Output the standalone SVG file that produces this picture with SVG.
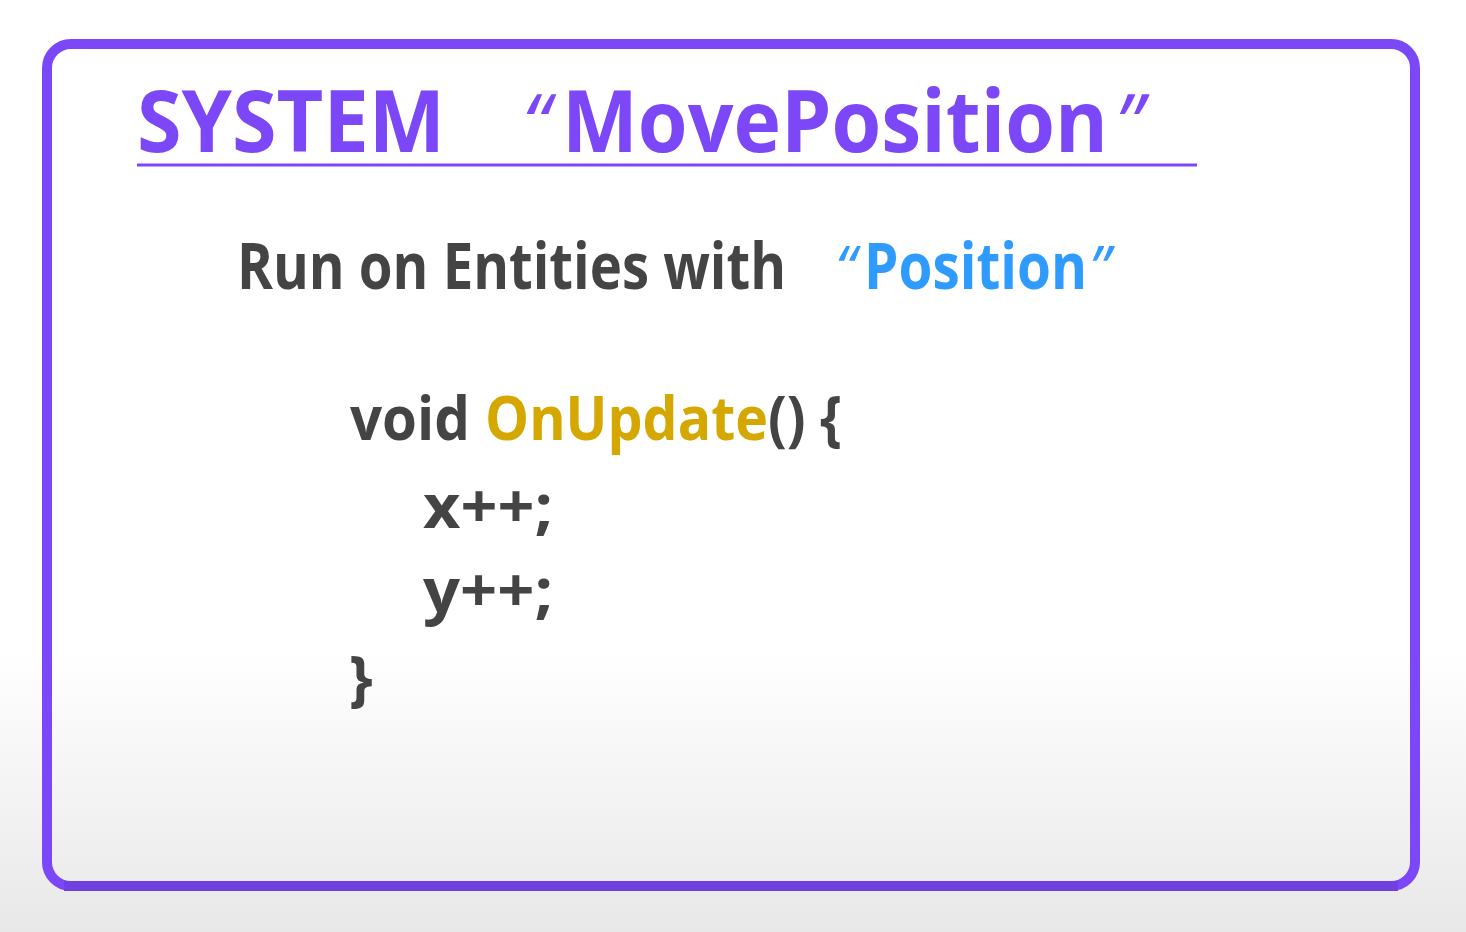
<svg xmlns="http://www.w3.org/2000/svg" width="1466" height="932" viewBox="0 0 1466 932">
  <defs>
    <linearGradient id="bg" x1="0" y1="0" x2="0" y2="1">
      <stop offset="0" stop-color="#ffffff"/>
      <stop offset="0.7" stop-color="#ffffff"/>
      <stop offset="1" stop-color="#e8e8e8"/>
    </linearGradient>
    <style>
      text { font-family: "Open Sans", "Noto Sans", "Liberation Sans", sans-serif; font-weight: 700; }
      .title { font-size: 86px; fill: #7b47f7; }
      .sub { font-size: 64px; fill: #444444; }
      .comp { font-size: 64px; fill: #2f9bff; }
      .code { font-size: 60px; fill: #444444; }
      .fn { font-size: 60px; fill: #d4a800; }
      .q { font-style: italic; font-weight: 400; }
    </style>
  </defs>

  <!-- page background -->
  <rect x="0" y="0" width="1466" height="932" fill="url(#bg)"/>

  <!-- system card -->
  <g id="system-card">
    <rect x="47" y="44" width="1368" height="842" rx="24" ry="24" fill="none" stroke="#7b47f7" stroke-width="10"/>
    <line x1="64" y1="886" x2="1398" y2="886" stroke="#7040e0" stroke-width="10"/>
  </g>

  <!-- heading -->
  <g id="title">
    <text class="title" x="137" y="152" textLength="308" lengthAdjust="spacingAndGlyphs">SYSTEM</text>
    <text class="title" y="152"><tspan class="q" x="522" font-size="80">“</tspan><tspan x="562" textLength="546" lengthAdjust="spacingAndGlyphs">MovePosition</tspan><tspan class="q" x="1115" font-size="80">”</tspan></text>
    <line x1="137" y1="165" x2="1197" y2="165" stroke="#7b47f7" stroke-width="3"/>
  </g>

  <!-- filter line -->
  <g id="query">
    <text class="sub" x="237" y="289" textLength="549" lengthAdjust="spacingAndGlyphs">Run on Entities with</text>
    <text class="comp" y="289"><tspan class="q" x="835" font-size="60">“</tspan><tspan x="864" textLength="223" lengthAdjust="spacingAndGlyphs">Position</tspan><tspan class="q" x="1089" font-size="60">”</tspan></text>
  </g>

  <!-- update body -->
  <g id="code">
    <text class="code" x="350" y="440" textLength="120" lengthAdjust="spacingAndGlyphs">void</text>
    <text class="fn" x="485" y="440" textLength="283" lengthAdjust="spacingAndGlyphs">OnUpdate</text>
    <text class="code" x="768" y="440" textLength="74" lengthAdjust="spacingAndGlyphs">() {</text>
    <text class="code" x="423" y="528" textLength="130" lengthAdjust="spacingAndGlyphs">x++;</text>
    <text class="code" x="423" y="612" textLength="130" lengthAdjust="spacingAndGlyphs">y++;</text>
    <text class="code" x="349" y="700">}</text>
  </g>
</svg>
